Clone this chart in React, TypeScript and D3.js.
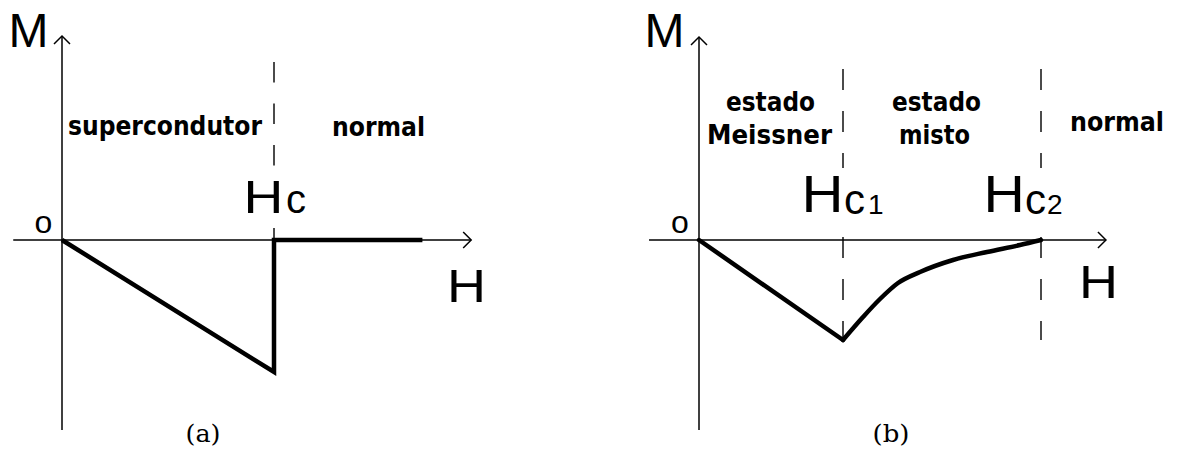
import React from "react";
import * as d3 from "d3";

const WIDTH = 1177;
const HEIGHT = 454;

// (a) type-I superconductor: M(H) falls linearly up to Hc, then jumps to zero
const typeIField = [0, 1, 1, 1.7];
const typeIMag = [0, -1, 0, 0];
const typeICritical = [1];

// (b) type-II superconductor: Meissner branch up to Hc1, mixed state up to Hc2
const meissnerField = [0, 1];
const meissnerMag = [0, -1];
const mixedField = [1, 1.139, 1.257, 1.382, 1.535, 1.764, 2.0, 2.229, 2.375];
const mixedMag = [-1, -0.77, -0.59, -0.43, -0.32, -0.2, -0.12, -0.05, 0];
const typeIICritical = [1, 2.375];

// axis extents in field / magnetisation units
const typeIAxisH = [-0.23, 1.93];
const typeIAxisM = [1.545, -1.44];
const typeIIAxisH = [-0.347, 2.826];
const typeIIAxisM = [2.03, -1.9];

const SANS = "'Liberation Sans', Arial, sans-serif";
const BOLD = "'DejaVu Sans', sans-serif";
const SERIF = "'DejaVu Serif', serif";

type Scale = d3.ScaleLinear<number, number>;

function Axes({ x, y, hExt, mExt }: { x: Scale; y: Scale; hExt: number[]; mExt: number[] }) {
  const x0 = x(0);
  const y0 = y(0);
  const xl = x(hExt[0]);
  const xr = x(hExt[1]);
  const yt = y(mExt[0]);
  const yb = y(mExt[1]);
  const a = 8;
  return (
    <g stroke="#000" strokeWidth={1.5} fill="none">
      <line x1={xl} y1={y0} x2={xr} y2={y0} />
      <line x1={x0} y1={yb} x2={x0} y2={yt} />
      <polyline points={`${xr - a},${y0 - a} ${xr},${y0} ${xr - a},${y0 + a}`} />
      <polyline points={`${x0 - a},${yt + a} ${x0},${yt} ${x0 + a},${yt + a}`} />
    </g>
  );
}

function pairs(hs: number[], ms: number[]): [number, number][] {
  return hs.map((h, i) => [h, ms[i]] as [number, number]);
}

// thin sans glyph, optionally widened horizontally
function Glyph({
  x,
  y,
  size,
  sx = 1,
  children,
}: {
  x: number;
  y: number;
  size: number;
  sx?: number;
  children: React.ReactNode;
}) {
  return (
    <text transform={`translate(${x},${y}) scale(${sx},1)`} fontFamily={SANS} fontSize={size}>
      {children}
    </text>
  );
}

function Region({ x, y, len, children }: { x: number; y: number; len: number; children: string }) {
  return (
    <text
      x={x}
      y={y}
      fontFamily={BOLD}
      fontWeight="bold"
      fontSize={26}
      textLength={len}
      lengthAdjust="spacingAndGlyphs"
    >
      {children}
    </text>
  );
}

export default function App() {
  // panel (a) scales
  const xa = d3.scaleLinear().domain([0, 1]).range([62, 274]);
  const ya = d3.scaleLinear().domain([0, -1]).range([240, 372]);
  // panel (b) scales
  const xb = d3.scaleLinear().domain([0, 1]).range([699, 843]);
  const yb = d3.scaleLinear().domain([0, -1]).range([240, 340]);

  const lineA = d3
    .line<[number, number]>()
    .x((d) => xa(d[0]))
    .y((d) => ya(d[1]));
  const lineBStraight = d3
    .line<[number, number]>()
    .x((d) => xb(d[0]))
    .y((d) => yb(d[1]));
  const lineBCurve = d3
    .line<[number, number]>()
    .x((d) => xb(d[0]))
    .y((d) => yb(d[1]))
    .curve(d3.curveMonotoneX);

  return (
    <svg
      width={WIDTH}
      height={HEIGHT}
      viewBox={`0 0 ${WIDTH} ${HEIGHT}`}
      style={{ position: "absolute", left: 0, top: 0, background: "#fff" }}
    >
      <rect width={WIDTH} height={HEIGHT} fill="#fff" />

      {/* ---------- (a) ---------- */}
      {typeICritical.map((h) => (
        <line
          key={`a-${h}`}
          x1={xa(h)}
          x2={xa(h)}
          y1={62}
          y2={ya(0)}
          stroke="#111"
          strokeWidth={1.5}
          strokeDasharray="20.5 21"
        />
      ))}
      <Axes x={xa} y={ya} hExt={typeIAxisH} mExt={typeIAxisM} />
      <path
        d={lineA(pairs(typeIField, typeIMag)) || ""}
        fill="none"
        stroke="#000"
        strokeWidth={4.5}
        strokeLinejoin="miter"
        strokeMiterlimit={10}
      />
      <Glyph x={8.5} y={47} size={48}>M</Glyph>
      <text x={43.5} y={233} fontFamily={SANS} fontSize={32} textAnchor="middle">o</text>
      <Glyph x={447} y={302} size={47} sx={1.15}>H</Glyph>
      {/* label plate interrupts the dashed Hc marker */}
      <rect x={242} y={176} width={70} height={42} fill="#fff" />
      <Glyph x={243.5} y={213} size={46} sx={1.2}>H</Glyph>
      <Glyph x={286} y={213} size={40}>c</Glyph>
      <Region x={68} y={135} len={194}>supercondutor</Region>
      <Region x={332} y={136} len={93}>normal</Region>
      <text x={203} y={442} fontFamily={SERIF} fontSize={24} textAnchor="middle" textLength={35} lengthAdjust="spacingAndGlyphs">(a)</text>

      {/* ---------- (b) ---------- */}
      {typeIICritical.map((h) => (
        <line
          key={`b-${h}`}
          x1={xb(h)}
          x2={xb(h)}
          y1={69}
          y2={yb(-1)}
          stroke="#111"
          strokeWidth={1.5}
          strokeDasharray="21 21"
        />
      ))}
      <Axes x={xb} y={yb} hExt={typeIIAxisH} mExt={typeIIAxisM} />
      <path
        d={lineBStraight(pairs(meissnerField, meissnerMag)) || ""}
        fill="none"
        stroke="#000"
        strokeWidth={4.5}
        strokeLinecap="round"
      />
      <path
        d={lineBCurve(pairs(mixedField, mixedMag)) || ""}
        fill="none"
        stroke="#000"
        strokeWidth={4.5}
        strokeLinecap="round"
      />
      <Glyph x={644.5} y={47} size={48}>M</Glyph>
      <text x={680} y={233} fontFamily={SANS} fontSize={32} textAnchor="middle">o</text>
      <Glyph x={1079} y={298} size={47} sx={1.15}>H</Glyph>

      <rect x={800} y={168} width={86} height={52} fill="#fff" />
      <Glyph x={801.5} y={212} size={52} sx={1.12}>H</Glyph>
      <Glyph x={844} y={214} size={42}>c</Glyph>
      <Glyph x={868} y={214} size={28}>1</Glyph>

      <rect x={982} y={168} width={90} height={52} fill="#fff" />
      <Glyph x={983.5} y={212} size={52} sx={1.1}>H</Glyph>
      <Glyph x={1025} y={214} size={42}>c</Glyph>
      <Glyph x={1047} y={214} size={28}>2</Glyph>

      <Region x={726} y={111} len={89}>estado</Region>
      <Region x={707} y={144} len={125}>Meissner</Region>
      <Region x={892} y={111} len={89}>estado</Region>
      <Region x={899} y={144} len={71}>misto</Region>
      <Region x={1070} y={131} len={94}>normal</Region>
      <text x={891} y={442} fontFamily={SERIF} fontSize={24} textAnchor="middle" textLength={37} lengthAdjust="spacingAndGlyphs">(b)</text>
    </svg>
  );
}
